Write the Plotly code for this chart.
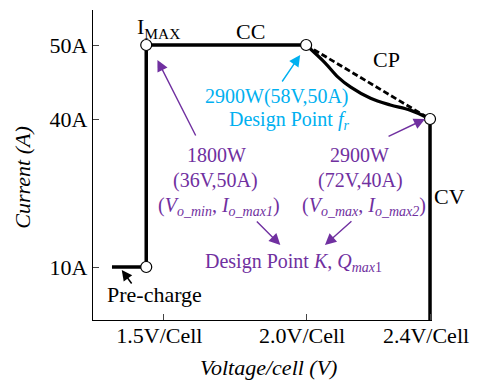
import numpy as np
import plotly.graph_objects as go

# ---- data (schematic values) ----
precharge_v = [1.32, 1.44]
precharge_i = [10, 10]
cc_v = [1.44, 1.44, 2.0]
cc_i = [10, 50, 50]
cp_v = [2.0, 2.061, 2.102, 2.144, 2.208, 2.272, 2.336, 2.4]
cp_i = [50, 47.6, 45.7, 44.3, 42.8, 41.9, 41.2, 40]
cp_line_v = [2.0, 2.4]
cp_line_i = [50, 40]
cv_v = [2.4, 2.4]
cv_i = [40, 0]
point_v = [1.44, 1.44, 2.0, 2.4]
point_i = [50, 10, 50, 40]
x_tick_v = [1.5, 2.0, 2.4]
x_tick_text = ["1.5V/Cell", "2.0V/Cell", "2.4V/Cell"]
y_tick_a = [10, 40, 50]
y_tick_text = ["10A", "40A", "50A"]

# schematic (broken) scales
def xa(v):
    return np.interp(v, [1.0, 2.0, 2.4], [1.0, 2.0, 2.434])

def ya(a):
    return np.interp(a, [0, 10, 40, 60], [12.84, 20, 40, 60])

FONT = "Liberation Serif"
PURPLE = "#7030A0"
CYAN = "#00B0F0"
L, R, T, B = 93, 44, 10, 62
W, H = 479, 382
PW, PH = W - L - R, H - T - B

def pp(x, y):
    return (x - L) / PW, (H - B - y) / PH

fig = go.Figure()
line = dict(color="black", width=3.5)
fig.add_trace(go.Scatter(x=xa(precharge_v), y=ya(precharge_i), mode="lines", line=line))
fig.add_trace(go.Scatter(x=xa(cc_v), y=ya(cc_i), mode="lines", line=line))
fig.add_trace(go.Scatter(x=xa(cp_v), y=ya(cp_i), mode="lines", line=dict(color="black", width=3.2, shape="spline")))
fig.add_trace(go.Scatter(x=xa(cp_line_v), y=ya(cp_line_i), mode="lines", line=dict(color="black", width=2.8, dash="6px,3px")))
fig.add_trace(go.Scatter(x=xa(cv_v), y=ya(cv_i), mode="lines", line=line))
fig.add_trace(go.Scatter(x=xa(point_v), y=ya(point_i), mode="markers", cliponaxis=False,
                         marker=dict(symbol="circle", size=11, color="white", line=dict(color="black", width=1.2))))

anns = []
def text(x, y, s, color="black", size=22, **kw):
    px_, py_ = pp(x, y)
    anns.append(dict(x=px_, y=py_, xref="paper", yref="paper", text=s, showarrow=False,
                     xanchor="center", yanchor="middle",
                     font=dict(family=FONT, size=size, color=color), **kw))

def arrow(hx, hy, tx, ty, color, width=1.4, size=1.6):
    px_, py_ = pp(hx, hy)
    anns.append(dict(x=px_, y=py_, xref="paper", yref="paper", text="", showarrow=True,
                     ax=tx - hx, ay=ty - hy, arrowhead=2, arrowsize=size, arrowwidth=width,
                     arrowcolor=color, standoff=0))

text(159, 28, "I<sub>MAX</sub>")
text(252, 31, "CC")
text(389, 60, "CP")
text(453, 196, "CV")
text(155, 294, "Pre-charge")
text(279, 96, "2900W(58V,50A)", CYAN, 20)
text(291, 121, "Design Point <i>f<sub>r</sub></i>", CYAN, 20)
text(218, 155, "1800W", PURPLE, 20)
text(217, 180, "(36V,50A)", PURPLE, 20)
text(220, 206, "(<i>V<sub>o_min</sub></i>, <i>I<sub>o_max1</sub></i>)", PURPLE, 20)
text(362, 155, "2900W", PURPLE, 20)
text(363, 180, "(72V,40A)", PURPLE, 20)
text(366, 206, "(<i>V<sub>o_max</sub></i>, <i>I<sub>o_max2</sub></i>)", PURPLE, 20)
text(295, 262, "Design Point <i>K</i>, <i>Q<sub>max</sub></i><sub>1</sub>", PURPLE, 20)
text(21, 178, "<i>Current (A)</i>", textangle=-90)
text(270, 367, "<i>Voltage/cell (V)</i>")

arrow(122, 270, 133, 285, "black", 1.5, 1.4)
arrow(302, 55, 283, 83, CYAN, 1.4, 1.6)
arrow(158, 60, 197, 137, PURPLE)
arrow(428, 119, 390, 137, PURPLE)
arrow(282, 245, 257, 220, PURPLE)
arrow(327, 245, 355, 220, PURPLE)

fig.update_layout(
    width=W, height=H, margin=dict(l=L, r=R, t=T, b=B),
    paper_bgcolor="white", plot_bgcolor="white", showlegend=False,
    annotations=anns,
    xaxis=dict(range=[1.2535, float(xa(2.4)) + 2 / 288], tickvals=xa(x_tick_v), ticktext=x_tick_text,
               ticks="inside", ticklen=6, tickwidth=1.2, tickcolor="#444",
               showline=True, linecolor="black", linewidth=1.3, showgrid=False, zeroline=False,
               tickfont=dict(family=FONT, size=22, color="black"), ticklabelshift=-4,
               ticklabelstandoff=-5, fixedrange=True),
    yaxis=dict(range=[float(ya(0)), 54.73], tickvals=ya(y_tick_a), ticktext=y_tick_text,
               ticks="inside", ticklen=6, tickwidth=1.2, tickcolor="#444",
               showline=True, linecolor="black", linewidth=1.3, showgrid=False, zeroline=False,
               tickfont=dict(family=FONT, size=22, color="black"), fixedrange=True),
)
fig.write_html("out.html")
